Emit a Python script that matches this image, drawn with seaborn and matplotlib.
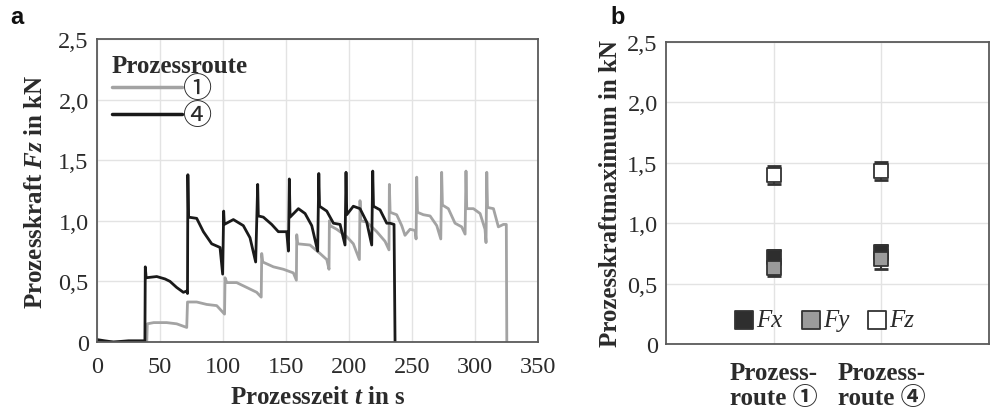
import numpy as np
import pandas as pd
import matplotlib
matplotlib.use("Agg")
import matplotlib.pyplot as plt
from matplotlib.lines import Line2D
import seaborn as sns

# Zeitverlauf Prozesskraft Fz, Prozessroute 4 (schwarz)
t_r4 = [0, 6, 13, 25, 38, 38.3, 39, 47.4, 54, 57.9, 63.2, 68.5, 71.2, 71.8,
        72.1, 72.6, 79.1, 84.4, 91, 97.6, 99.7, 100.5, 101, 108.2, 116.1, 121.4,
        125.9, 127.5, 128, 132, 138.6, 143.9, 150.5, 151.9, 152.6, 153.2, 159.8,
        165.1, 170.4, 175.1, 176, 176.6, 182.3, 187.6, 192.9, 196.8, 197.6,
        198.2, 203.4, 208.7, 214, 218, 218.8, 219.4, 224.6, 229.9, 232.5,
        235.7, 236.5]
fz_r4 = [0.02, 0.01, 0.0, 0.01, 0.01, 0.62, 0.53, 0.54, 0.52, 0.50, 0.45, 0.41, 0.42, 0.40,
         1.38, 1.03, 1.02, 0.91, 0.81, 0.78, 0.56, 1.08, 0.97, 1.01, 0.96, 0.86,
         0.66, 1.30, 1.04, 1.03, 0.97, 0.91, 0.91, 0.75, 1.345, 1.03, 1.10,
         1.06, 0.96, 0.75, 1.39, 1.12, 1.08, 0.98, 0.97, 0.80, 1.40,
         1.05, 1.12, 1.10, 0.99, 0.80, 1.41, 1.12, 1.09, 0.98, 0.98,
         0.97, 0.0]

# Zeitverlauf Prozesskraft Fz, Prozessroute 1 (grau)
t_r1 = [0, 39.5, 39.9, 45, 55.3, 63.2, 71.2, 71.8, 79.1, 87, 95, 101.2, 101.6,
        103, 110.8, 118.8, 126.7, 130.3, 130.7, 131.5, 140, 147.9, 155.8, 158.2,
        158.5, 159.2, 169, 177, 182.3, 184.1, 184.4, 185, 190.2, 198.1, 203.4,
        208.2, 208.7, 209.3, 214, 222, 228.6, 231.7, 232, 232.6, 237.8, 241.8,
        244.4, 248.4, 252.4, 253.2, 253.7, 254.3, 259, 264.3, 269.6, 272.8,
        273.5, 274.1, 278.8, 284.1, 289.4, 292.1, 292.8, 293.4, 298.7, 304,
        307.9, 308.7, 309.3, 309.9, 314.6, 318.5, 322.5, 324.8, 325.2]
fz_r1 = [0.0, 0.0, 0.15, 0.16, 0.16, 0.15, 0.12, 0.33, 0.33, 0.31, 0.30, 0.23, 0.53,
         0.49, 0.49, 0.45, 0.41, 0.37, 0.73, 0.66, 0.62, 0.60, 0.57, 0.51,
         0.885, 0.81, 0.80, 0.73, 0.68, 0.60, 1.00, 0.96, 0.93, 0.87, 0.81,
         0.68, 1.166, 1.00, 0.99, 0.91, 0.83, 0.76, 1.30, 1.07, 1.05, 0.96,
         0.88, 0.93, 0.92, 0.85, 1.36, 1.07, 1.05, 1.04, 0.96, 0.85,
         1.40, 1.13, 1.10, 0.98, 0.95, 0.89, 1.41, 1.10, 1.10, 1.06,
         0.93, 0.82, 1.40, 1.11, 1.10, 0.95, 0.97, 0.97, 0.0]

# Kraftmaxima je Prozessroute
routes = ["Prozess-\nroute \u2460", "Prozess-\nroute \u2463"]
fx_max = [0.72, 0.76]
fx_err = [0.06, 0.06]
fy_max = [0.63, 0.70]
fy_err = [0.07, 0.08]
fz_max = [1.40, 1.435]
fz_err = [0.075, 0.075]

sns.set_theme(style="whitegrid")
serif = ["Liberation Serif", "Noto Sans CJK JP", "DejaVu Sans"]
plt.rcParams["font.family"] = serif
plt.rcParams["mathtext.fontset"] = "custom"
plt.rcParams["mathtext.rm"] = "Liberation Serif"
plt.rcParams["mathtext.it"] = "Liberation Serif:italic"
plt.rcParams["mathtext.bf"] = "Liberation Serif:bold"
plt.rcParams["mathtext.bfit"] = "Liberation Serif:italic:bold"

fs = 18
fs_tick = 17.5
txt = "#2b2b2b"
grid_c = "#e3e3e3"
frame_c = "#5a5a5a"

fig = plt.figure(figsize=(9.9, 4.14), dpi=100)
ax1 = fig.add_axes([0.098, 0.1715, 0.4455, 0.732])
ax2 = fig.add_axes([0.6727, 0.1667, 0.3263, 0.7295])

df = pd.concat([
    pd.DataFrame({"t": t_r1, "Fz": fz_r1, "route": "\u2460"}),
    pd.DataFrame({"t": t_r4, "Fz": fz_r4, "route": "\u2463"}),
])
sns.lineplot(data=df, x="t", y="Fz", hue="route", sort=False, estimator=None,
             palette={"\u2460": "#a3a3a3", "\u2463": "#1a1a1a"},
             linewidth=2.0, ax=ax1, legend=False)

ax1.set_xlim(0, 350)
ax1.set_ylim(0, 2.5)
ax1.set_xticks(np.arange(0, 351, 50))
ax1.set_yticks(np.arange(0, 2.51, 0.5))
ax1.set_yticklabels(["0", "0,5", "1,0", "1,5", "2,0", "2,5"])
ax1.set_xlabel(r"Prozesszeit $\mathbfit{t}$ in s", fontsize=fs, fontweight="bold", color=txt, labelpad=6)
ax1.set_ylabel(r"Prozesskraft $\mathbfit{Fz}$ in kN", fontsize=fs, fontweight="bold", color=txt, labelpad=8)

handles = [Line2D([], [], color="#a3a3a3", lw=2.5), Line2D([], [], color="#1a1a1a", lw=2.5)]
leg1 = ax1.legend(handles, ["\u2460", "\u2463"], title="Prozessroute", loc="upper left",
                  frameon=False, fontsize=21, handlelength=2.4, handletextpad=0.05,
                  labelspacing=0.0, borderaxespad=0.2, borderpad=0.3,
                  bbox_to_anchor=(0.0, 1.0))
leg1.get_title().set_fontweight("bold")
leg1.get_title().set_fontsize(fs)
leg1.get_title().set_color(txt)
leg1._legend_box.align = "left"
for t in leg1.get_texts():
    t.set_color(txt)

# rechte Grafik: Kraftmaxima
xpos = np.arange(len(routes))
series = [(fx_max, fx_err, "#2e2e2e", "Fx"),
          (fy_max, fy_err, "#9b9b9b", "Fy"),
          (fz_max, fz_err, "#ffffff", "Fz")]
for vals, err, col, lab in series:
    ax2.errorbar(xpos, vals, yerr=err, fmt="none", ecolor="#333333",
                 elinewidth=1.5, capsize=5, capthick=2, zorder=3)
    sns.scatterplot(x=xpos, y=vals, marker="s", s=95, color=col,
                    edgecolor="#333333", linewidth=1.3, ax=ax2, zorder=4, label=lab)

ax2.set_xlim(-1, 2)
ax2.set_ylim(0, 2.5)
ax2.set_xticks(xpos)
ax2.set_xticklabels(routes, fontweight="bold")
ax2.set_yticks(np.arange(0, 2.51, 0.5))
ax2.set_yticklabels(["0", "0,5", "1,0", "1,5", "2,0", "2,5"])
ax2.set_ylabel("Prozesskraftmaximum in kN", fontsize=fs, fontweight="bold", color=txt, labelpad=4)
ax2.set_xlabel("")
leg2 = ax2.legend(loc="center", bbox_to_anchor=(0.49, 0.08), ncol=3, frameon=False,
                  handlelength=0.8, handletextpad=0.1, columnspacing=0.7, markerscale=1.35,
                  prop={"style": "italic", "size": fs, "family": serif})
for t in leg2.get_texts():
    t.set_color(txt)

for ax in (ax1, ax2):
    ax.grid(True, color=grid_c, linewidth=1.0)
    ax.set_axisbelow(True)
    for sp in ax.spines.values():
        sp.set_color(frame_c)
        sp.set_linewidth(1.3)
    ax.tick_params(axis="both", labelsize=fs_tick, colors=txt, length=0, pad=6)
    ax.set_facecolor("white")

ax1.tick_params(axis="x", pad=10)
ax2.tick_params(axis="x", pad=12, labelsize=fs)
for lbl in ax2.get_xticklabels():
    lbl.set_linespacing(1.15)

fig.text(0.010, 0.985, "a", fontsize=17, fontweight="bold", family="Liberation Sans", va="top", color="#111111")
fig.text(0.617, 0.985, "b", fontsize=17, fontweight="bold", family="Liberation Sans", va="top", color="#111111")

fig.savefig("out.png", dpi=100, facecolor="white")
